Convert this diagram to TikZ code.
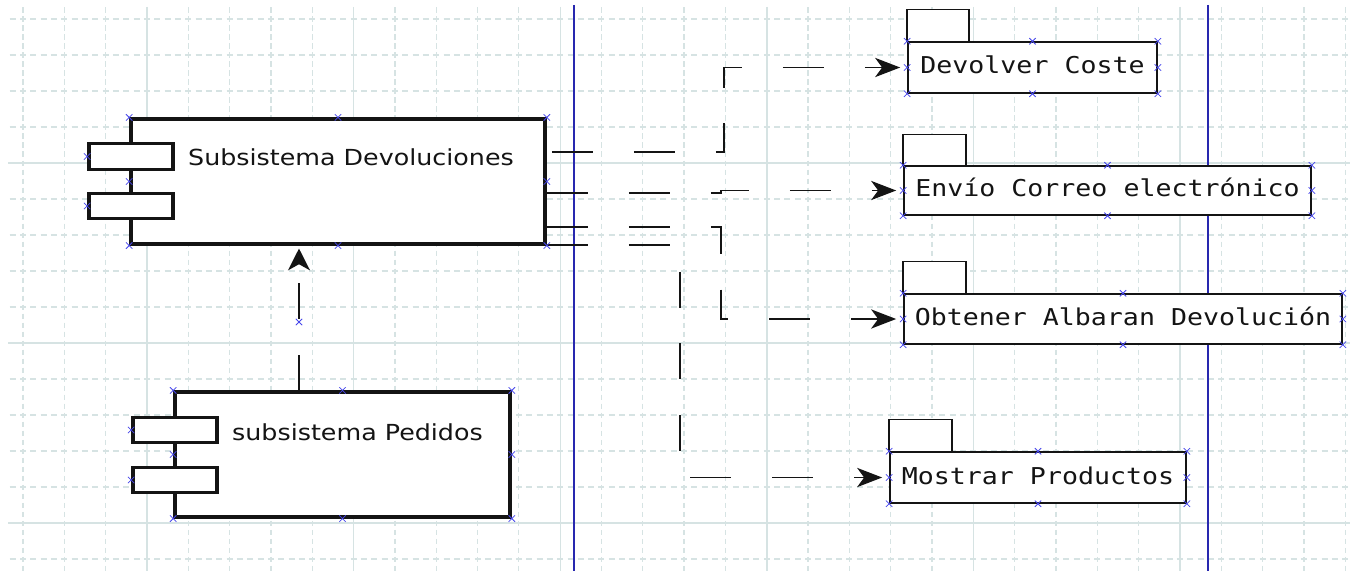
\documentclass[tikz,border=0pt]{standalone}
\usepackage{fontspec}
\newfontfamily\sansfnt{DejaVu Sans}
\newfontfamily\monofnt{DejaVu Sans Mono}
\usetikzlibrary{arrows.meta,calc}
\definecolor{gridc}{RGB}{214,227,227}
\definecolor{laneblue}{RGB}{40,40,175}
\definecolor{handlec}{RGB}{70,70,235}
\definecolor{ink}{RGB}{20,20,20}
\tikzset{
  gridminor/.style={draw=gridc, line width=1.3bp, dash pattern=on 6bp off 4.33bp},
  gridmajor/.style={draw=gridc, line width=1.4bp},
  lane/.style={draw=laneblue, line width=2bp},
  compbox/.style={draw=ink, fill=white, line width=3.6bp, inner sep=0pt, rectangle},
  portbox/.style={compbox, minimum width=84bp, minimum height=29.24bp},
  pkgbox/.style={draw=ink, fill=white, line width=1.7bp, inner sep=0pt, rectangle,
    font=\monofnt\fontsize{26.6bp}{30bp}\selectfont, text=ink, text height=19bp, text depth=4.1bp},
  pkgtab/.style={draw=ink, fill=white, line width=1.7bp},
  complbl/.style={inner sep=0pt, anchor=base west, font=\sansfnt\fontsize{25.35bp}{30bp}\selectfont, text=ink},
  conn/.style={draw=ink, line width=1.9bp, dash pattern=on 41bp off 41bp,
    -{Stealth[length=25bp,width=22bp,inset=7bp]}, shorten >=7bp},
  hmark/.pic={\draw[handlec, line width=0.8bp] (-3.2,-3.2) -- (3.2,3.2) (-3.2,3.2) -- (3.2,-3.2);}
}
\begin{document}
\begin{tikzpicture}[x=1bp,y=-1bp]
\useasboundingbox (0,0) rectangle (1350,571);
\fill[white] (0,0) rectangle (1350,571);
\begin{scope}[transform canvas={yscale=0.872}, y=-1.146789bp]
  % grid
  \foreach \i in {0,...,32}
    \draw[gridminor, dash phase=9.9bp] ({23+41.32*\i},7) -- ({23+41.32*\i},571);
  \foreach \j in {0,...,15}
    \draw[gridminor, dash phase=8.66bp] (8,{19+36*\j}) -- (1350,{19+36*\j});
  \foreach \m in {0,...,5}
    \draw[gridmajor] ({147+206.6*\m},7) -- ({147+206.6*\m},571);
  \foreach \yy in {163,343,523}
    \draw[gridmajor] (8,\yy) -- (1350,\yy);
  % lanes
  \draw[lane] (574,5) -- (574,571);
  \draw[lane] (1208,5) -- (1208,571);
  % components
  \node[compbox, minimum width=414bp, minimum height=143.35bp] (dev) at (338,181.5) {};
  \node[portbox] (d1) at (131,156.5) {};
  \node[portbox] (d2) at (131,206) {};
  \node[complbl] (dlbl) at (188,166) {Subsistema Devoluciones};
  \node[compbox, minimum width=335bp, minimum height=143.35bp] (ped) at (342.5,454.5) {};
  \node[portbox] (p1) at (175,430) {};
  \node[portbox] (p2) at (175,480) {};
  \node[complbl] (plbl) at (232,440) {subsistema Pedidos};
  % packages
  \node[pkgbox, minimum width=249bp, minimum height=58.49bp] (c1) at (1032.5,67.5) {Devolver Coste};
  \draw[pkgtab] (c1.north west) rectangle +(62,-32);
  \node[pkgbox, minimum width=407bp, minimum height=56.19bp] (c2) at (1107.5,190.5) {Envío Correo electrónico};
  \draw[pkgtab] (c2.north west) rectangle +(63,-31);
  \node[pkgbox, minimum width=438bp, minimum height=57.34bp] (c3) at (1123,319) {Obtener Albaran Devolución};
  \draw[pkgtab] (c3.north west) rectangle +(63,-32);
  \node[pkgbox, minimum width=296bp, minimum height=58.49bp] (c4) at (1038,477.5) {Mostrar Productos};
  \draw[pkgtab] (c4.north west) rectangle +(63,-32);
  % connectors
  \draw[conn, dash phase=77bp] (dev.east |- 0,152) -- (724,152) |- (c1.west);
  \draw[conn] (dev.east |- 0,193) -- (721,193) |- (c2.west);
  \draw[conn] (dev.east |- 0,227) -- (721,227) |- (c3.west);
  \draw[conn] (dev.east |- 0,245) -- (680,245) |- (c4.west);
  \draw[conn, shorten >=3.4bp] (299,0 |- ped.north) -- (299,0 |- dev.south);
  % handles
  \foreach \n in {dev,ped,c1,c2,c3,c4}
    \foreach \a in {north west,north,north east,east,south east,south,south west,west}
      \pic at (\n.\a) {hmark};
  \foreach \n in {d1,d2,p1,p2}
    \pic at (\n.west) {hmark};
  \pic at (299,322) {hmark};
\end{scope}
\end{tikzpicture}
\end{document}
